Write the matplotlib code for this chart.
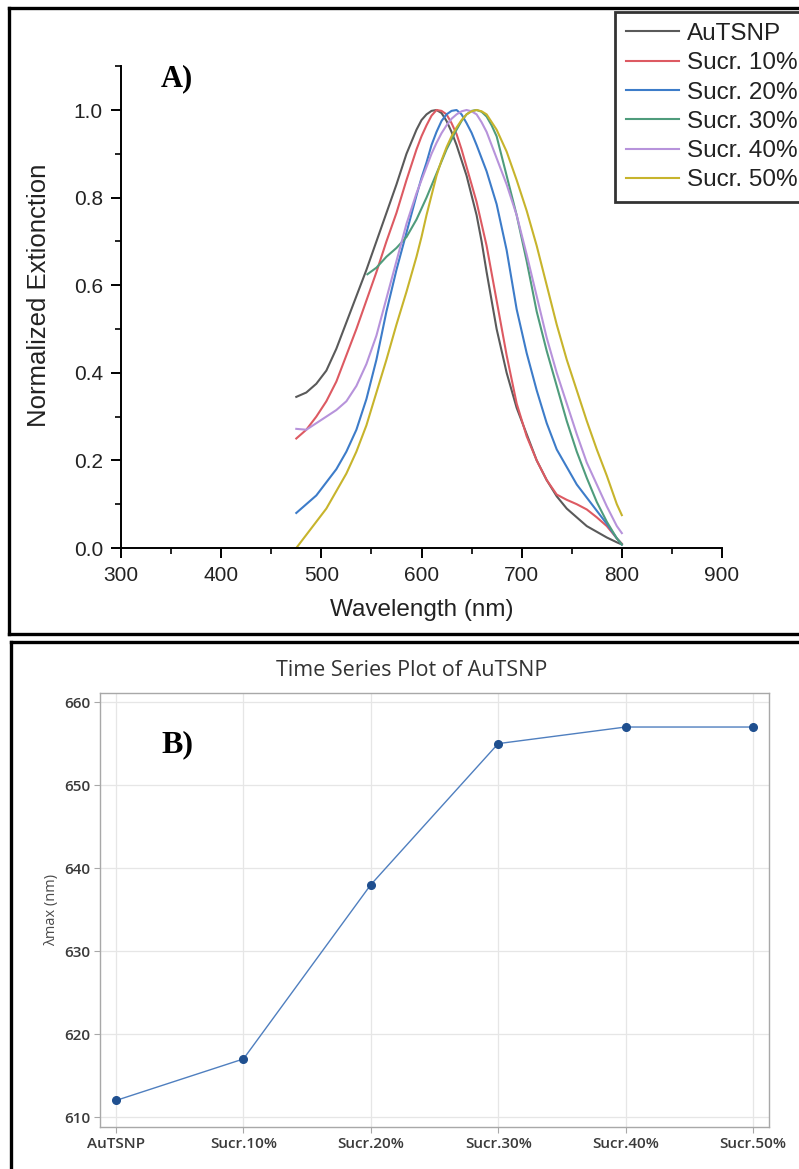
import matplotlib
matplotlib.use("Agg")
import matplotlib.pyplot as plt
from matplotlib.lines import Line2D

# ---- panel A data: normalized extinction spectra ----
wl = [475, 485, 495, 505, 515, 525, 535, 545, 555, 565, 575, 585,
      595, 600, 605, 610, 615, 620, 625, 630, 635, 640, 645, 650, 655, 660, 665,
      675, 685, 695, 705, 715, 725, 735, 745, 755, 765, 775, 785, 795, 800]

autsnp = [0.345, 0.355, 0.375, 0.405, 0.455, 0.515, 0.575, 0.635, 0.70, 0.765, 0.83, 0.90,
          0.955, 0.977, 0.99, 0.998, 1.0, 0.993, 0.975, 0.95, 0.92, 0.885, 0.85, 0.805, 0.76, 0.70, 0.63,
          0.50, 0.40, 0.32, 0.26, 0.20, 0.155, 0.118, 0.09, 0.07, 0.05, 0.037, 0.024, 0.013, 0.008]
sucr10 = [0.25, 0.27, 0.30, 0.335, 0.38, 0.44, 0.50, 0.565, 0.63, 0.70, 0.765, 0.84,
          0.91, 0.94, 0.965, 0.987, 1.0, 0.998, 0.99, 0.97, 0.945, 0.91, 0.87, 0.83, 0.79, 0.74, 0.69,
          0.565, 0.44, 0.33, 0.255, 0.20, 0.155, 0.122, 0.11, 0.10, 0.088, 0.07, 0.05, 0.022, 0.01]
sucr20 = [0.08, 0.10, 0.12, 0.15, 0.18, 0.22, 0.27, 0.34, 0.43, 0.54, 0.635, 0.72,
          0.805, 0.845, 0.88, 0.92, 0.95, 0.975, 0.99, 0.998, 1.0, 0.99, 0.97, 0.948, 0.92, 0.89, 0.86,
          0.785, 0.68, 0.545, 0.445, 0.36, 0.285, 0.225, 0.185, 0.145, 0.115, 0.085, 0.055, 0.022, 0.008]
sucr40 = [0.272, 0.27, 0.285, 0.30, 0.315, 0.335, 0.37, 0.42, 0.485, 0.57, 0.655, 0.74,
          0.81, 0.84, 0.87, 0.90, 0.925, 0.947, 0.965, 0.98, 0.99, 0.997, 1.0, 0.997, 0.99, 0.972, 0.95,
          0.89, 0.83, 0.76, 0.67, 0.575, 0.48, 0.40, 0.33, 0.26, 0.195, 0.145, 0.095, 0.05, 0.034]
sucr50 = [0.0, 0.03, 0.06, 0.09, 0.13, 0.17, 0.22, 0.28, 0.355, 0.43, 0.51, 0.585,
          0.665, 0.71, 0.76, 0.805, 0.85, 0.885, 0.915, 0.94, 0.96, 0.977, 0.99, 0.997, 1.0, 0.997, 0.99,
          0.955, 0.905, 0.84, 0.77, 0.69, 0.60, 0.51, 0.43, 0.36, 0.29, 0.225, 0.165, 0.10, 0.075]

wl30 = [546, 555, 565, 575, 585, 595, 605, 615, 625, 635,
        640, 645, 650, 655, 660, 665, 670, 675,
        685, 695, 705, 715, 725, 735, 745, 755, 765, 775, 785, 795, 800]
sucr30 = [0.625, 0.64, 0.665, 0.685, 0.71, 0.75, 0.80, 0.855, 0.91, 0.955,
          0.975, 0.99, 0.998, 1.0, 0.996, 0.985, 0.965, 0.94,
          0.85, 0.76, 0.655, 0.54, 0.45, 0.37, 0.29, 0.22, 0.16, 0.105, 0.06, 0.022, 0.008]

# ---- panel B data: lambda max ----
samples = ["AuTSNP", "Sucr.10%", "Sucr.20%", "Sucr.30%", "Sucr.40%", "Sucr.50%"]
lmax = [612, 617, 638, 655, 657, 657]

W, H = 799, 1169
fig = plt.figure(figsize=(W / 100, H / 100), dpi=100)


def fx(px):
    return px / W


def fy(py):
    return 1 - py / H


# ---------------- panel A ----------------
axA = fig.add_axes([fx(121), fy(548), fx(722) - fx(121), (1.1 * 438) / H])
sans = "Liberation Sans"
series = [
    (wl, autsnp, "AuTSNP", "#5a5a5a"),
    (wl, sucr10, "Sucr. 10%", "#dd5a62"),
    (wl, sucr20, "Sucr. 20%", "#3d7cc9"),
    (wl30, sucr30, "Sucr. 30%", "#4f9c7c"),
    (wl, sucr40, "Sucr. 40%", "#b793db"),
    (wl, sucr50, "Sucr. 50%", "#c7b42c"),
]
for x, y, lab, col in series:
    axA.plot(x, y, color=col, lw=1.5, label=lab)

axA.set_xlim(300, 900)
axA.set_ylim(0, 1.1)
axA.set_xticks([300, 400, 500, 600, 700, 800, 900])
axA.set_xticks([350, 450, 550, 650, 750, 850], minor=True)
axA.set_yticks([0.0, 0.2, 0.4, 0.6, 0.8, 1.0])
axA.set_yticks([0.1, 0.3, 0.5, 0.7, 0.9, 1.1], minor=True)
axA.set_yticklabels(["0.0", "0.2", "0.4", "0.6", "0.8", "1.0"])
for s in ["top", "right"]:
    axA.spines[s].set_visible(False)
for s in ["left", "bottom"]:
    axA.spines[s].set_linewidth(1.4)
axA.tick_params(which="major", direction="out", length=7, width=1.4,
                labelsize=15, pad=6)
axA.tick_params(which="minor", direction="out", length=4, width=1.2)
for t in axA.get_xticklabels() + axA.get_yticklabels():
    t.set_family(sans)
    t.set_color("#222222")
axA.set_xlabel("Wavelength (nm)", family=sans, fontsize=17.5, color="#222222",
               labelpad=10)
axA.set_ylabel("Normalized Extionction", family=sans, fontsize=18.5,
               color="#222222")
axA.yaxis.set_label_coords(-0.116, 0.525)
axA.text(340, 1.055, "A)", family="Liberation Serif", fontweight="bold",
         fontsize=22, color="black")

leg = axA.legend(loc="upper left", bbox_to_anchor=(fx(615), fy(12)),
                 bbox_transform=fig.transFigure, prop={"family": sans, "size": 17.5},
                 frameon=True, fancybox=False, edgecolor="black",
                 handlelength=2.2, handletextpad=0.33, labelspacing=0.3,
                 borderpad=0.45, borderaxespad=0)
leg.get_frame().set_linewidth(2)
for t in leg.get_texts():
    t.set_color("#222222")

# ---------------- panel B ----------------
axB = fig.add_axes([fx(100), fy(1127), fx(769) - fx(100), (1127 - 693) / H])
xs = list(range(len(samples)))
axB.plot(xs, lmax, color="#4f7fbf", lw=1.0, marker="o", markersize=5.5,
         markerfacecolor="#1f4f8f", markeredgecolor="#1f4f8f", zorder=3)
axB.set_xlim(-0.126, 5.126)
axB.set_ylim(608.8, 661.1)
axB.set_xticks(xs)
axB.set_xticklabels(samples)
axB.set_yticks([610, 620, 630, 640, 650, 660])
axB.grid(True, color="#e6e6e6", lw=0.9)
axB.set_axisbelow(True)
for s in axB.spines.values():
    s.set_color("#a8a8a8")
    s.set_linewidth(1.0)
axB.tick_params(direction="out", length=4, width=0.8, color="#a8a8a8",
                labelsize=11, pad=3)
bfont = "Open Sans"
for t in axB.get_xticklabels() + axB.get_yticklabels():
    t.set_family(bfont)
    t.set_fontweight("semibold")
    t.set_color("#3a3a3a")
axB.set_ylabel("\u03bbmax (nm)", family=bfont, fontsize=10.5, color="#4a4a4a")
axB.yaxis.set_label_coords(-0.061, 0.5)
axB.text(0.36, 654.0, "B)", family="Liberation Serif", fontweight="bold",
         fontsize=23, color="black")
fig.text(fx(412), fy(670), "Time Series Plot of AuTSNP", family=bfont,
         fontsize=15.5, color="#333333", ha="center", va="center")

# ---------------- panel borders ----------------
lw = 2.4
fig.add_artist(Line2D([fx(9), fx(820)], [fy(8), fy(8)], color="black", lw=lw))
fig.add_artist(Line2D([fx(9), fx(9)], [fy(8), fy(634)], color="black", lw=lw))
fig.add_artist(Line2D([fx(9), fx(820)], [fy(634), fy(634)], color="black", lw=lw))
fig.add_artist(Line2D([fx(11), fx(820)], [fy(642), fy(642)], color="black", lw=lw))
fig.add_artist(Line2D([fx(11), fx(11)], [fy(642), fy(1190)], color="black", lw=lw))

fig.savefig("out.png", dpi=100)
